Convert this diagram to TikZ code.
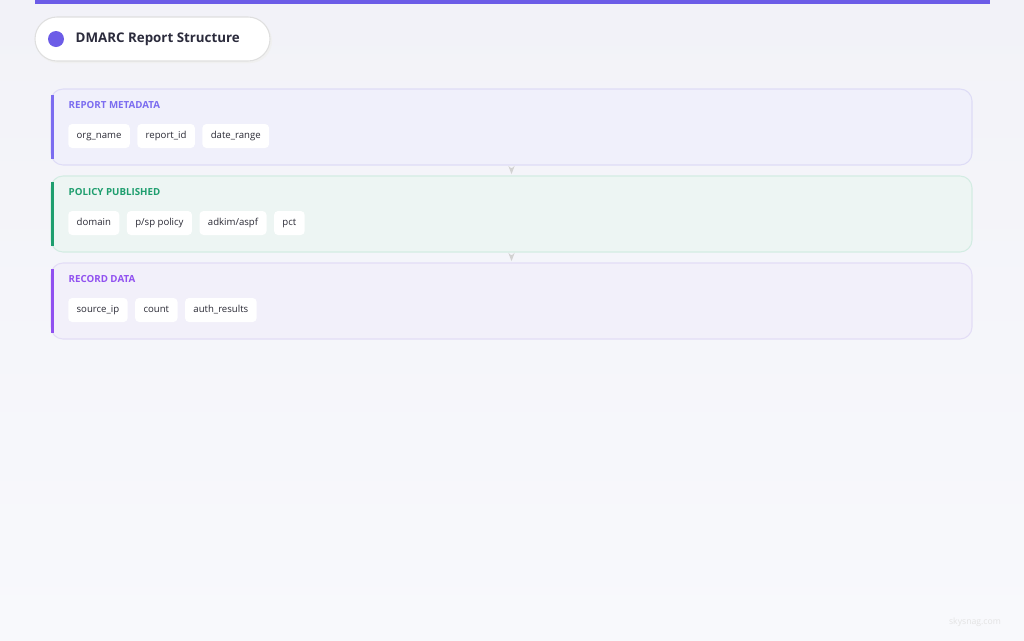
\documentclass[tikz,border=0pt]{standalone}
\usepackage{fontspec}
\setmainfont{Open Sans}
\usetikzlibrary{calc, positioning, arrows.meta, backgrounds}
\definecolor{barpurple}{HTML}{6C5CE7}
\definecolor{titleink}{HTML}{2B2B3C}
\definecolor{pagetop}{HTML}{F2F2F8}
\definecolor{pagebottom}{HTML}{F8F9FC}
\definecolor{metafill}{HTML}{F0F0FB}
\definecolor{metaline}{HTML}{DEDCF6}
\definecolor{metaink}{HTML}{7B6CF0}
\definecolor{polfill}{HTML}{EDF5F3}
\definecolor{polline}{HTML}{D3ECE3}
\definecolor{polink}{HTML}{1E9E6E}
\definecolor{recfill}{HTML}{F2F0FA}
\definecolor{recline}{HTML}{E3DDF6}
\definecolor{recink}{HTML}{9050F0}
\definecolor{chipink}{HTML}{2A2A35}

\begin{document}
\begin{tikzpicture}[x=0.75pt, y=-0.75pt, >=Stealth, node distance=5.25pt,
    every node/.style={font=\fontsize{7.2}{9}\selectfont}]
  \tikzset{section/.style={draw, line width=0.8pt, rounded corners=9pt, minimum width=690.75pt, minimum height=57pt},
           chip/.style={fill=white, rounded corners=3pt, minimum height=18pt, inner xsep=6.3pt, text height=5.4pt, text depth=1.6pt, text=chipink},
           heading/.style={anchor=west, font=\fontsize{7.3}{9}\selectfont\bfseries},
           accent/.style={line width=2.3pt}}

  % page and background
  \useasboundingbox (0,0) rectangle (1024,640);
  \shade[top color=pagetop, bottom color=pagebottom] (0pt,0pt) rectangle (768pt,-480pt);
  \fill[barpurple] (35,0) rectangle (990,4);

  % title pill
  \fill[gray!12, rounded corners=16.5pt] (36,19) rectangle (272,63);
  \node[fill=white, draw=gray!25, line width=0.8pt, rounded corners=16.5pt, minimum width=176.25pt, minimum height=33pt] (title) at (152.5,39) {};
  \fill[barpurple] (56,39) circle (8);
  \node[anchor=west, font=\fontsize{10}{12}\selectfont\bfseries, text=titleink] (titletext) at (71,39) {DMARC Report Structure};

  % sections
  \node[section, draw=metaline, fill=metafill] (meta) at (511.5,127) {};
  \node[section, draw=polline, fill=polfill] (policy) at (511.5,214) {};
  \node[section, draw=recline, fill=recfill] (record) at (511.5,301) {};

  \draw[accent, metaink] ($(meta.north west)+(2,7)$) -- ($(meta.south west)+(2,-7)$);
  \draw[accent, polink] ($(policy.north west)+(2,7)$) -- ($(policy.south west)+(2,-7)$);
  \draw[accent, recink] ($(record.north west)+(2,7)$) -- ($(record.south west)+(2,-7)$);

  \draw[->, gray!35, line width=0.7pt, shorten <=1.5pt, shorten >=1pt] (meta.south) -- (policy.north);
  \draw[->, gray!35, line width=0.7pt, shorten <=1.5pt, shorten >=1pt] (policy.south) -- (record.north);

  % report metadata
  \node[heading, text=metaink] (metahead) at (64,105) {REPORT METADATA};
  \node[chip, anchor=west] (orgname) at (68,136) {org\_name};
  \node[chip, right=of orgname] (reportid) {report\_id};
  \node[chip, right=of reportid] (daterange) {date\_range};

  % policy published
  \node[heading, text=polink] (polhead) at (64,192) {POLICY PUBLISHED};
  \node[chip, anchor=west] (domain) at (68,223) {domain};
  \node[chip, right=of domain] (pspolicy) {p/sp policy};
  \node[chip, right=of pspolicy] (adkim) {adkim/aspf};
  \node[chip, right=of adkim] (pct) {pct};

  % record data
  \node[heading, text=recink] (rechead) at (64,279) {RECORD DATA};
  \node[chip, anchor=west] (sourceip) at (68,310) {source\_ip};
  \node[chip, right=of sourceip] (count) {count};
  \node[chip, right=of count] (authres) {auth\_results};

  \node[text=gray!22, font=\fontsize{6.5}{8}\selectfont] (mark) at (975,622) {skysnag.com};
\end{tikzpicture}
\end{document}
